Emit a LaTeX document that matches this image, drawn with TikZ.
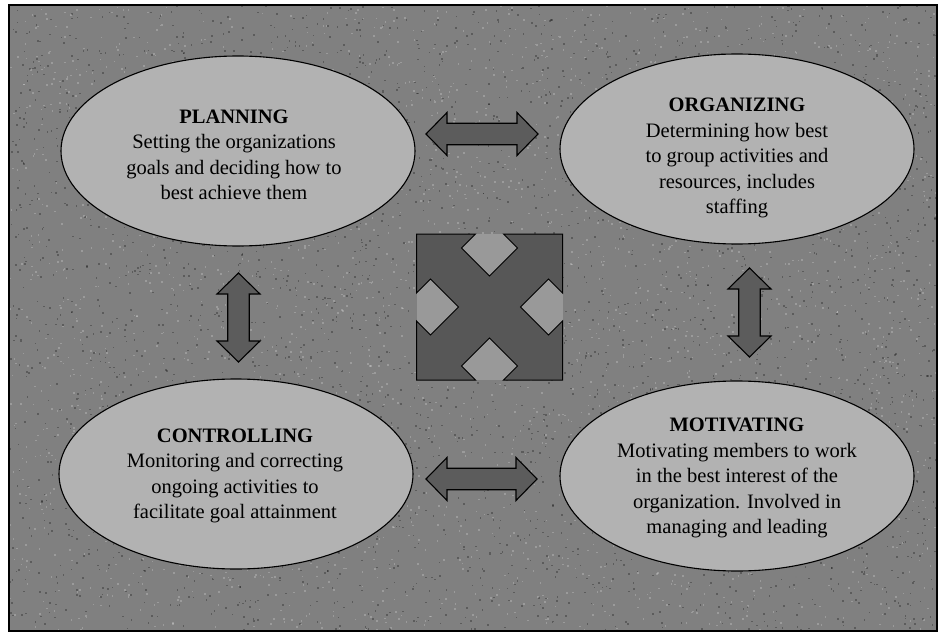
\documentclass[tikz,border=0pt]{standalone}
\usepackage{fontspec}
\setmainfont{Liberation Serif}
\usetikzlibrary{shapes.geometric}

\definecolor{granite}{gray}{0.50}
\definecolor{bubble}{gray}{0.70}
\definecolor{arrowgray}{gray}{0.36}
\definecolor{crossdark}{gray}{0.34}
\definecolor{notch}{gray}{0.60}

\tikzset{
  bubblenode/.style={ellipse, draw=black, line width=1.1pt, fill=bubble,
    minimum width=354pt, minimum height=190pt, inner sep=0pt},
  bubbletext/.style={align=center, inner sep=0pt,
    font=\fontsize{20.5}{25.5}\selectfont},
  arrowbody/.style={fill=arrowgray, draw=black, line width=1.1pt, line join=miter},
  crossshape/.style={fill=crossdark, draw=black, line width=1pt, line join=miter},
  % two-headed block arrow of half-length #1, drawn along the local x axis
  pics/biarrow/.style={code={
    \coordinate (-tipA) at (-#1,0);
    \coordinate (-tipB) at (#1,0);
    \filldraw[arrowbody] (-tipA) -- (-#1+21,-21.5) -- (-#1+21,-10.75) -- (#1-21,-10.75)
      -- (#1-21,-21.5) -- (-tipB) -- (#1-21,21.5) -- (#1-21,10.75) -- (-#1+21,10.75)
      -- (-#1+21,21.5) -- cycle;
  }},
}

\begin{document}
\begin{tikzpicture}[x=1pt, y=-1pt]
  % page and granite panel
  \fill[white] (0,0) rectangle (940,634);
  \useasboundingbox (0,0) rectangle (940,634);
  \fill[granite] (9,5) rectangle (937,631);
  \begin{scope}
    \clip (9,5) rectangle (937,631);
    \pgfmathsetseed{4711}
    % fine grain of the stone
    \foreach \k in {1,...,3500}{
      \pgfmathsetmacro\gx{9+928*rnd}
      \pgfmathsetmacro\gy{5+626*rnd}
      \fill[black, opacity=0.28] (\gx,\gy) rectangle ++(1.6,1.6);
    }
    \foreach \k in {1,...,2800}{
      \pgfmathsetmacro\gx{9+928*rnd}
      \pgfmathsetmacro\gy{5+626*rnd}
      \fill[white, opacity=0.22] (\gx,\gy) rectangle ++(1.6,1.6);
    }
  \end{scope}
  \draw[black, line width=1.2pt] (9,5) rectangle (937,631);

  % the four function bubbles
  \node[bubblenode] (plan) at (238,151) {};
  \node[bubblenode] (org)  at (737,149) {};
  \node[bubblenode] (ctrl) at (236,474) {};
  \node[bubblenode] (mot)  at (737,476) {};

  \node[bubbletext] (planT) at (234,155)
    {\textbf{PLANNING}\\Setting the organizations\\goals and deciding how to\\best achieve them};
  \node[bubbletext] (orgT) at (737,158)
    {\textbf{ORGANIZING}\\Determining how best\\to group activities and\\resources, includes\\staffing};
  \node[bubbletext] (ctrlT) at (235,476)
    {\textbf{CONTROLLING}\\Monitoring and correcting\\ongoing activities to\\facilitate goal attainment};
  \node[bubbletext] (motT) at (737,478)
    {\textbf{MOTIVATING}\\Motivating members to work\\in the best interest of the\\organization. Involved in\\managing and leading};

  % two-way arrows between neighbouring functions
  \pic (aTop)   at (482,134)     {biarrow=56};
  \pic (aBot)   at (481.5,479)   {biarrow=55.5};
  \pic[rotate=90] (aLeft)  at (238.5,317.5) {biarrow=44.5};
  \pic[rotate=90] (aRight) at (749.5,312.5) {biarrow=44.5};

  % central cross: square with four diamond notches
  \coordinate (c) at (489.5,307);
  \fill[notch] (416.5,234) rectangle (562.5,380);
  \filldraw[crossshape]
    (416.5,234) -- (475.5,234) -- (461.5,248) -- (489.5,276) -- (517.5,248) -- (503.5,234)
    -- (562.5,234) -- (562.5,293) -- (548.5,279) -- (520.5,307) -- (548.5,335) -- (562.5,321)
    -- (562.5,380) -- (503.5,380) -- (517.5,366) -- (489.5,338) -- (461.5,366) -- (475.5,380)
    -- (416.5,380) -- (416.5,321) -- (430.5,335) -- (458.5,307) -- (430.5,279) -- (416.5,293)
    -- cycle;
\end{tikzpicture}
\end{document}
